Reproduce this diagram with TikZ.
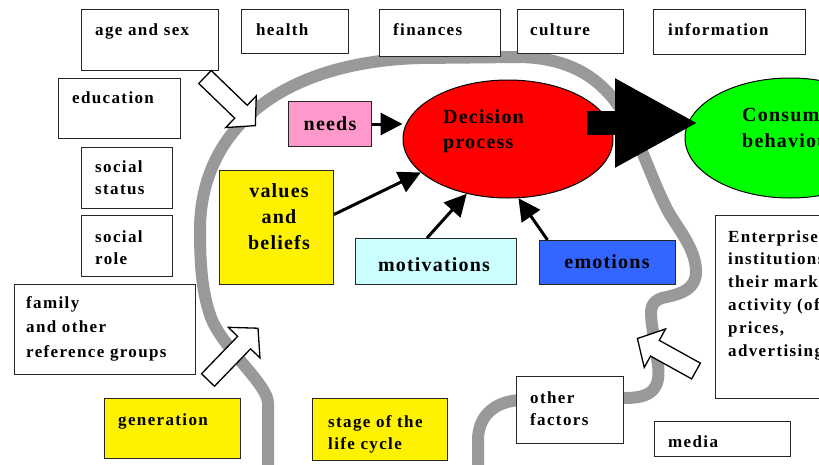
\documentclass[tikz,border=0pt]{standalone}
\usepackage{fontspec}
\setmainfont{Liberation Serif}
\usetikzlibrary{shapes.geometric,arrows.meta}
\newcommand\hollowarrow[3]{\draw[harrow,shift={#1},rotate=#2] (0,-9) -- ({#3-20},-9) -- ({#3-20},-22) -- (#3,0) -- ({#3-20},22) -- ({#3-20},9) -- (0,9) -- cycle;}
\begin{document}
\begin{tikzpicture}[x=1pt,y=-1pt,
  wbox/.style={draw=black!85, line width=1.3pt, fill=white, anchor=north west, inner sep=0pt},
  cbox/.style={draw=black!85, line width=1pt, anchor=north west, inner sep=0pt},
  sm/.style={font=\fontsize{17pt}{22.8pt}\selectfont\bfseries\addfontfeatures{LetterSpace=8}, anchor=base west, inner sep=0pt},
  bg/.style={font=\fontsize{20pt}{25pt}\selectfont\bfseries\addfontfeatures{LetterSpace=6}, anchor=base, inner sep=0pt},
  conn/.style={line width=3pt, -{Triangle[length=22pt,width=22pt]}},
  bigarrow/.style={line width=24pt, -{Triangle[length=83pt,width=83pt]}},
  harrow/.style={draw=black, line width=1.3pt, fill=white, line join=miter},
  headline/.style={draw=black!40, line width=12pt, line join=round}
]
\useasboundingbox (0,0) rectangle (819,464);
\clip (0,0) rectangle (819,464);
\fill[white] (0,0) rectangle (819,464);

% head outline
\draw[headline] (268,470) -- (268,403) .. controls (268,385) and (225,350) .. (212,320)
  .. controls (202,295) and (200,265) .. (200,230)
  .. controls (200,130) and (280,62) .. (420,58) -- (520,57)
  .. controls (570,58) and (600,78) .. (620,108)
  .. controls (640,140) and (650,175) .. (665,205)
  .. controls (672,222) and (695,245) .. (696,270)
  .. controls (697,292) and (675,295) .. (662,298)
  .. controls (650,302) and (650,310) .. (652,325) -- (658,365)
  .. controls (661,390) and (650,398) .. (625,398) -- (520,400)
  .. controls (490,402) and (478,420) .. (478,440) -- (478,470);

% white boxes
\node[wbox, minimum width=137pt, minimum height=61pt] (age) at (81,9) {};
\node[wbox, minimum width=107pt, minimum height=44pt] (health) at (241,9) {};
\node[wbox, minimum width=121pt, minimum height=47pt] (fin) at (379,9) {};
\node[wbox, minimum width=106pt, minimum height=44pt] (cult) at (517,9) {};
\node[wbox, minimum width=152pt, minimum height=45pt] (info) at (653,9) {};
\node[wbox, minimum width=122pt, minimum height=60pt] (edu) at (58,78) {};
\node[wbox, minimum width=91pt, minimum height=61pt] (sstat) at (81,147) {};
\node[wbox, minimum width=91pt, minimum height=61pt] (srole) at (81,215) {};
\node[wbox, minimum width=181pt, minimum height=90pt] (fam) at (14,284) {};
\node[wbox, minimum width=107pt, minimum height=67pt] (other) at (516,376) {};
\node[wbox, minimum width=136pt, minimum height=35pt] (media) at (654,421) {};
\node[wbox, minimum width=140pt, minimum height=183pt] (ent) at (715,215) {};

% coloured boxes
\node[cbox, fill=yellow, minimum width=136pt, minimum height=60pt] (gen) at (104,398) {};
\node[cbox, fill=yellow, minimum width=135pt, minimum height=62pt] (stage) at (312,398) {};
\node[cbox, fill={rgb,255:red,255;green,153;blue,204}, minimum width=83pt, minimum height=45pt] (needs) at (288,101) {};
\node[cbox, fill=yellow, minimum width=114pt, minimum height=114pt] (vb) at (219,170) {};
\node[cbox, fill={rgb,255:red,204;green,255;blue,255}, minimum width=161pt, minimum height=46pt] (mot) at (355,238) {};
\node[cbox, fill={rgb,255:red,51;green,102;blue,255}, minimum width=136pt, minimum height=44pt] (emo) at (539,240) {};

% ellipses
\node[ellipse, draw=black, line width=1pt, fill=red, minimum width=210pt, minimum height=118pt, inner sep=0pt] (dec) at (508,139) {};
\node[ellipse, draw=black, line width=1pt, fill={rgb,255:red,0;green,255;blue,0}, minimum width=210pt, minimum height=120pt, inner sep=0pt] (cons) at (790,138) {};

% texts
\node[sm] (tage) at (95,35) {age and sex};
\node[sm] (thealth) at (256,35) {health};
\node[sm] (tfin) at (393,35) {finances};
\node[sm] (tcult) at (530,35) {culture};
\node[sm] (tinfo) at (668,35) {information};
\node[sm] (tedu) at (72,103) {education};
\node[sm] (tsstat) at (95,172) {\begin{tabular}[t]{@{}l@{}}social\\status\end{tabular}};
\node[sm] (tsrole) at (95,242) {\begin{tabular}[t]{@{}l@{}}social\\role\end{tabular}};
\node[sm] (tfam) at (26,308) {\renewcommand\arraystretch{1.075}\begin{tabular}[t]{@{}l@{}}family\\and other\\reference groups\end{tabular}};
\node[sm] (tgen) at (118,425) {generation};
\node[sm] (tstage) at (328,427) {\begin{tabular}[t]{@{}l@{}}stage of the\\life cycle\end{tabular}};
\node[sm] (tother) at (530,403) {\begin{tabular}[t]{@{}l@{}}other\\factors\end{tabular}};
\node[sm] (tmedia) at (668,447) {media};
\node[sm] (tent) at (728,242) {\begin{tabular}[t]{@{}l@{}}Enterprises,\\institutions,\\their marketing\\activity (offer,\\prices,\\advertising)\end{tabular}};
\node[bg] (tneeds) at (330,130) {needs};
\node[bg] (tvb) at (279,197) {\renewcommand\arraystretch{1.04}\begin{tabular}[t]{@{}c@{}}values\\and\\beliefs\end{tabular}};
\node[bg] (tmot) at (434,271) {motivations};
\node[bg] (temo) at (607,268) {emotions};
\node[bg, anchor=base west] (tdec) at (443,123) {\begin{tabular}[t]{@{}l@{}}Decision\\process\end{tabular}};
\node[bg, anchor=base west] (tcons) at (742,121) {\renewcommand\arraystretch{1.04}\begin{tabular}[t]{@{}l@{}}Consumer\\behaviour\end{tabular}};

% connectors
\draw[conn] (needs.east) -- (dec.west |- needs.east);
\draw[conn] ([yshift=13pt]vb.east) -- (dec.201);
\draw[conn] ([xshift=-9pt]mot.north) -- (dec.233);
\draw[conn] ([xshift=-60pt]emo.north) -- (dec.280);
\draw[bigarrow] ([xshift=79pt,yshift=16pt]dec.center) -- ([xshift=-92pt,yshift=15pt]cons.center);

% hollow arrows
\hollowarrow{(205,77)}{-44}{70}
\hollowarrow{(208,380)}{46}{72}
\hollowarrow{(696,371)}{151}{67}
\end{tikzpicture}
\end{document}
